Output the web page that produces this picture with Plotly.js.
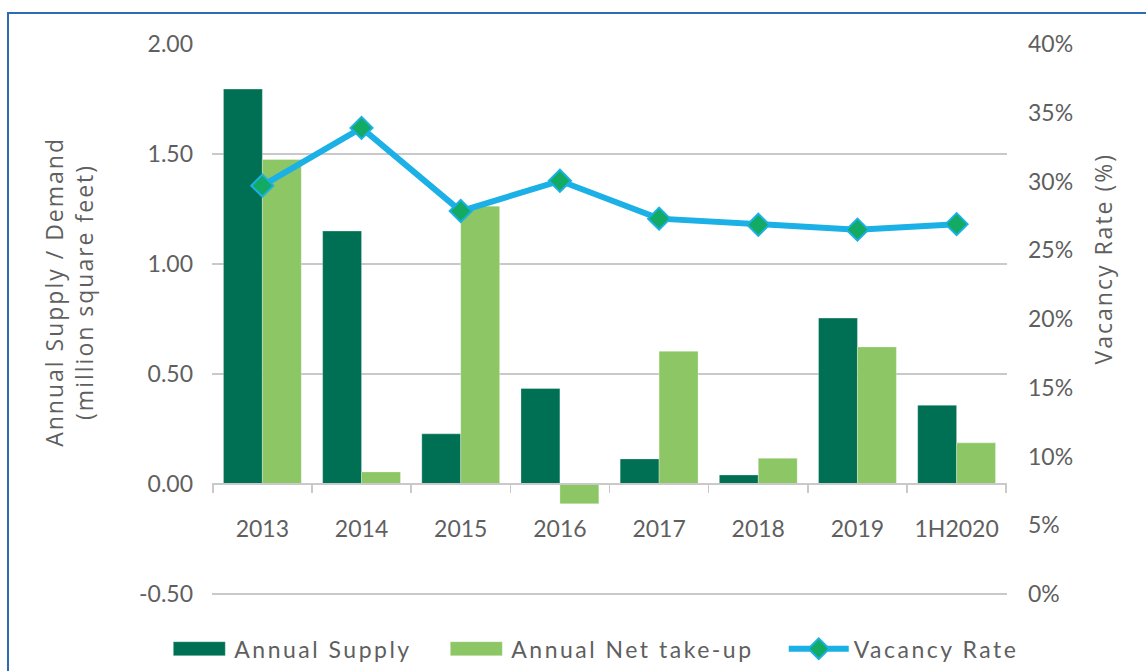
<!DOCTYPE html>
<html>
<head>
<meta charset="utf-8">
<script src="https://cdn.plot.ly/plotly-3.0.1.min.js"></script>
<style>
  html, body { margin: 0; padding: 0; background: #ffffff; }
  #wrap { position: relative; width: 1146px; height: 671px; overflow: hidden; }
  #chart { position: absolute; left: 0; top: 0; width: 1146px; height: 671px; }
  #frame { position: absolute; left: 7px; top: 12px; width: 1200px; height: 700px;
           border-top: 2px solid #2f6bb5; border-left: 2px solid #2f6bb5; pointer-events: none; }
  .legendtext { letter-spacing: 2.5px; }
  .annotation-text { letter-spacing: 2px; }
</style>
</head>
<body>
<div id="wrap">
  <div id="chart"></div>
  <div id="frame"></div>
</div>
<script>
const categories = ['2013', '2014', '2015', '2016', '2017', '2018', '2019', '1H2020'];
const seriesNames = ['Annual Supply', 'Annual Net take-up', 'Vacancy Rate'];
const annualSupply = [1.795, 1.150, 0.228, 0.434, 0.114, 0.041, 0.754, 0.358];
const annualNetTakeUp = [1.475, 0.055, 1.263, -0.090, 0.603, 0.117, 0.623, 0.187];
const vacancyRate = [29.7, 33.9, 27.85, 30.05, 27.3, 26.85, 26.5, 26.9];
const leftTickVals = [-0.5, 0, 0.5, 1.0, 1.5, 2.0];
const leftTickText = ['-0.50', '0.00', '0.50', '1.00', '1.50', '2.00'];
const rightTickVals = [0, 5, 10, 15, 20, 25, 30, 35, 40];
const rightTickText = ['0%', '5%', '10%', '15%', '20%', '25%', '30%', '35%', '40%'];

const textColor = '#5f5f5f';
const gridColor = '#c9c9c9';
const tickFont = { family: 'Lato, "Open Sans", sans-serif', size: 23, color: textColor };
const pad = '\u00a0\u00a0\u00a0';

const traces = [
  {
    type: 'bar', name: seriesNames[0] + pad, x: categories, y: annualSupply,
    marker: { color: '#007054', line: { color: 'rgba(255,255,255,0.5)', width: 0.6 } },
    yaxis: 'y', hoverinfo: 'skip'
  },
  {
    type: 'bar', name: seriesNames[1] + pad, x: categories, y: annualNetTakeUp,
    marker: { color: '#8cc665', line: { color: 'rgba(255,255,255,0.5)', width: 0.6 } },
    yaxis: 'y', hoverinfo: 'skip'
  },
  {
    type: 'scatter', mode: 'lines+markers', name: seriesNames[2], x: categories, y: vacancyRate,
    yaxis: 'y2',
    line: { color: '#1bb0e6', width: 6 },
    marker: { symbol: 'diamond', size: 17, color: '#13ab64', line: { color: '#1bb0e6', width: 2 } },
    hoverinfo: 'skip'
  }
];

const layout = {
  width: 1146, height: 671,
  margin: { l: 212, r: 139, t: 44, b: 66, pad: 0, autoexpand: false },
  paper_bgcolor: '#ffffff', plot_bgcolor: '#ffffff',
  barmode: 'group', bargap: 0.215, bargroupgap: 0,
  showlegend: true,
  font: { family: 'Lato, "Open Sans", sans-serif', color: textColor },
  xaxis: {
    type: 'category', categoryorder: 'array', categoryarray: categories,
    anchor: 'free', position: 0.55 / 2.55,
    showline: true, linecolor: gridColor, linewidth: 2,
    ticks: 'outside', ticklen: 8, tickwidth: 1.5, tickcolor: gridColor,
    tickson: 'boundaries', showgrid: false, zeroline: false,
    tickfont: tickFont, ticklabelstandoff: 24, automargin: false
  },
  yaxis: {
    range: [-0.55, 2.0], tickvals: leftTickVals, ticktext: leftTickText,
    showgrid: true, gridcolor: gridColor, gridwidth: 1.5,
    zeroline: false, showline: false, ticks: '',
    tickfont: tickFont, ticklabelstandoff: 18, automargin: false
  },
  yaxis2: {
    range: [-0.8, 40], overlaying: 'y', side: 'right',
    tickvals: rightTickVals, ticktext: rightTickText,
    showgrid: false, zeroline: false, showline: false, ticks: '',
    tickfont: tickFont, ticklabelstandoff: 20, automargin: false
  },
  legend: {
    orientation: 'h', x: -0.06, xanchor: 'left', y: -0.078, yanchor: 'middle',
    font: { family: 'Lato, "Open Sans", sans-serif', size: 23, color: textColor },
    itemwidth: 60, traceorder: 'normal', bgcolor: 'rgba(0,0,0,0)'
  },
  annotations: [
    {
      xref: 'paper', yref: 'paper', x: -0.18, y: 0.558, xanchor: 'center', yanchor: 'middle',
      text: 'Annual Supply / Demand<br>(million square feet)', textangle: -90, showarrow: false,
      font: { family: '"Open Sans", sans-serif', size: 23, color: textColor }
    },
    {
      xref: 'paper', yref: 'paper', x: 1.121, y: 0.618, xanchor: 'center', yanchor: 'middle',
      text: 'Vacancy Rate (%)', textangle: -90, showarrow: false,
      font: { family: '"Open Sans", sans-serif', size: 23, color: textColor }
    }
  ]
};

Plotly.newPlot('chart', traces, layout, { displayModeBar: false, staticPlot: true }).then(function (gd) {
  // widen the bar swatches in the legend to wide rectangles
  const items = gd.querySelectorAll('.legend .traces');
  items.forEach(function (item, i) {
    if (i < 2) {
      item.querySelectorAll('.legendsymbols path').forEach(function (p) {
        p.setAttribute('d', 'M26,7H-26V-7H26Z');
      });
    }
  });
});
</script>
</body>
</html>
